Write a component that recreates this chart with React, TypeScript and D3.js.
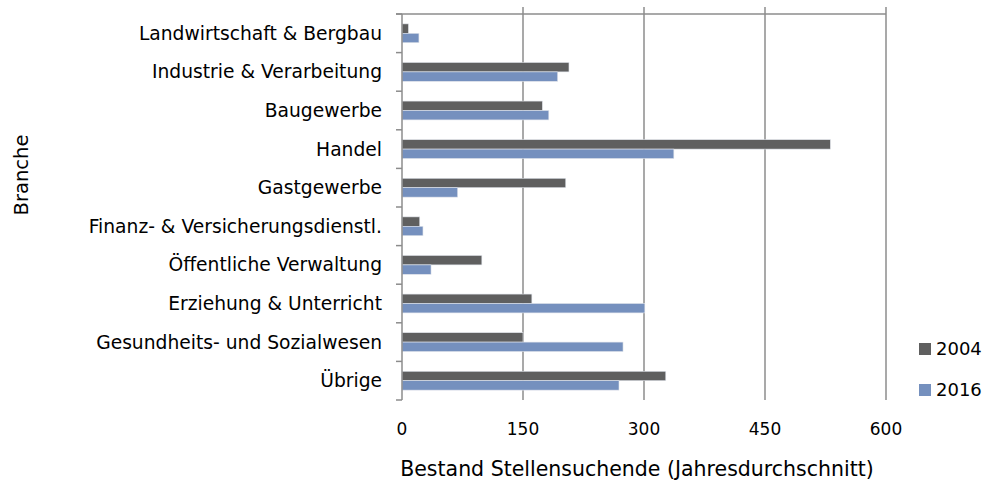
import React, { useRef, useEffect } from 'react';
import * as d3 from 'd3';

const categories = [
  'Landwirtschaft & Bergbau',
  'Industrie & Verarbeitung',
  'Baugewerbe',
  'Handel',
  'Gastgewerbe',
  'Finanz- & Versicherungsdienstl.',
  'Öffentliche Verwaltung',
  'Erziehung & Unterricht',
  'Gesundheits- und Sozialwesen',
  'Übrige',
];
const values2004 = [8, 207, 174, 531, 203, 22, 99, 161, 150, 327];
const values2016 = [21, 193, 182, 337, 69, 26, 36, 301, 274, 269];
const xTicks = [0, 150, 300, 450, 600];
const seriesNames = ['2004', '2016'];
const seriesColors = ['#5f5f5f', '#7590be'];

const App = () => {
  const svgRef = useRef<SVGSVGElement>(null);

  useEffect(() => {
    const width = 985;
    const height = 486;
    const left = 402;
    const right = 886;
    const top = 14;
    const bottom = 400;
    const font = "'DejaVu Sans', sans-serif";

    const svg = d3.select(svgRef.current);
    svg.selectAll('*').remove();
    svg.attr('width', width).attr('height', height);

    const x = d3.scaleLinear().domain([0, 600]).range([left, right]);
    const y = d3.scaleBand().domain(categories).range([top, bottom]);
    const inner = d3.scaleBand().domain(seriesNames).range([0, y.bandwidth()]).paddingOuter(1.05);

    // gridlines
    svg.append('g')
      .selectAll('line')
      .data(xTicks.slice(1))
      .join('line')
      .attr('x1', d => x(d)).attr('x2', d => x(d))
      .attr('y1', 7).attr('y2', bottom)
      .attr('stroke', '#8c8c8c').attr('stroke-width', 1.5);

    // top line
    svg.append('line')
      .attr('x1', left - 6).attr('x2', right)
      .attr('y1', top).attr('y2', top)
      .attr('stroke', '#8c8c8c').attr('stroke-width', 1.5);

    // bars
    const rows = categories.map((c, i) => ({ c, vals: [values2004[i], values2016[i]] }));
    const g = svg.append('g');
    rows.forEach(r => {
      r.vals.forEach((v, j) => {
        g.append('rect')
          .attr('x', x(0))
          .attr('y', (y(r.c) as number) + (inner(seriesNames[j]) as number))
          .attr('width', x(v) - x(0))
          .attr('height', inner.bandwidth())
          .attr('fill', seriesColors[j])
          .attr('stroke', '#dfe3ea')
          .attr('stroke-width', 0.6);
      });
    });

    // category axis
    const yAxis = svg.append('g');
    yAxis.append('line')
      .attr('x1', left).attr('x2', left)
      .attr('y1', top).attr('y2', bottom)
      .attr('stroke', '#8c8c8c').attr('stroke-width', 1.5);
    yAxis.selectAll('line.tick')
      .data(d3.range(categories.length + 1))
      .join('line')
      .attr('class', 'tick')
      .attr('x1', left - 6).attr('x2', left)
      .attr('y1', i => top + i * y.step()).attr('y2', i => top + i * y.step())
      .attr('stroke', '#8c8c8c').attr('stroke-width', 1.5);
    yAxis.selectAll('text')
      .data(categories)
      .join('text')
      .attr('x', left - 20)
      .attr('y', d => (y(d) as number) + y.bandwidth() / 2)
      .attr('dy', '0.35em')
      .attr('text-anchor', 'end')
      .style('font-family', font)
      .style('font-size', '18.7px')
      .attr('fill', '#000')
      .text(d => d);

    // value axis labels
    svg.append('g')
      .selectAll('text')
      .data(xTicks)
      .join('text')
      .attr('x', d => x(d))
      .attr('y', 429)
      .attr('dy', '0.35em')
      .attr('text-anchor', 'middle')
      .style('font-family', font)
      .style('font-size', '17px')
      .attr('fill', '#000')
      .text(d => d);

    // axis titles
    svg.append('text')
      .attr('x', 637).attr('y', 469)
      .attr('dy', '0.35em')
      .attr('text-anchor', 'middle')
      .style('font-family', font)
      .style('font-size', '20.5px')
      .attr('fill', '#000')
      .text('Bestand Stellensuchende (Jahresdurchschnitt)');

    svg.append('text')
      .attr('transform', 'translate(21,175) rotate(-90)')
      .attr('dy', '0.35em')
      .attr('text-anchor', 'middle')
      .style('font-family', font)
      .style('font-size', '19.5px')
      .attr('fill', '#000')
      .text('Branche');

    // legend
    const legend = svg.append('g')
      .selectAll('g')
      .data(seriesNames)
      .join('g')
      .attr('transform', (d, i) => `translate(919,${343 + i * 41})`);
    legend.append('rect')
      .attr('width', 12).attr('height', 12)
      .attr('fill', (d, i) => seriesColors[i]);
    legend.append('text')
      .attr('x', 17).attr('y', 6)
      .attr('dy', '0.35em')
      .style('font-family', font)
      .style('font-size', '18px')
      .attr('fill', '#000')
      .text(d => d);
  }, []);

  return (
    <div>
      <svg ref={svgRef} style={{ position: 'absolute', left: 0, top: 0, background: '#fff' }}></svg>
    </div>
  );
};

export default App;
